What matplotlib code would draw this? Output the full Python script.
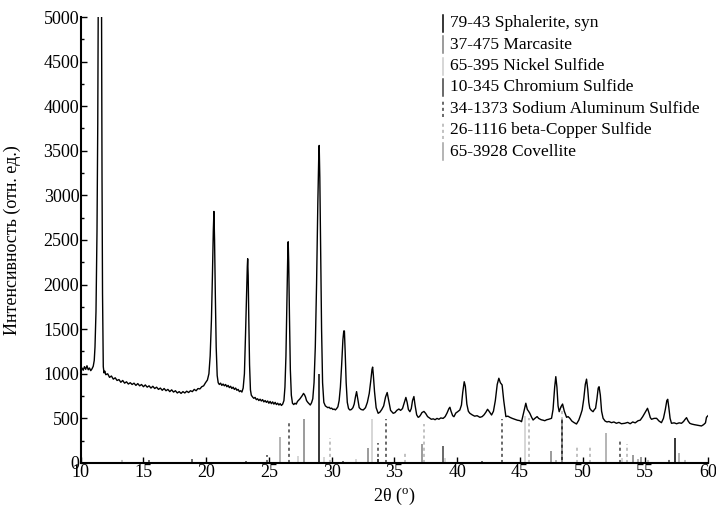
import matplotlib
matplotlib.use("Agg")
import matplotlib.pyplot as plt
from matplotlib.ticker import MultipleLocator

plt.rcParams['font.family'] = ['Liberation Serif', 'DejaVu Serif']
plt.rcParams['mathtext.fontset'] = 'custom'
plt.rcParams['mathtext.rm'] = 'Liberation Serif'

# measured XRD pattern (2theta, intensity)
tth = [10.0, 10.1, 10.2, 10.3, 10.4, 10.5, 10.6, 10.7, 10.8, 10.9, 11.0, 11.08, 11.14, 11.22, 11.3, 11.36,
       11.4, 11.46, 11.52, 11.6, 11.66, 11.7, 11.74, 11.8, 11.86, 11.92,
       12.0, 12.15, 12.3, 12.45, 12.6, 12.75, 12.9, 13.05, 13.2, 13.35, 13.5, 13.65, 13.8, 13.95,
       14.1, 14.25, 14.4, 14.55, 14.7, 14.85, 15.0, 15.15, 15.3, 15.45, 15.6, 15.75, 15.9, 16.05,
       16.2, 16.35, 16.5, 16.65, 16.8, 16.95, 17.1, 17.25, 17.4, 17.55, 17.7, 17.85, 18.0, 18.15,
       18.3, 18.45, 18.6, 18.75, 18.9, 19.05, 19.2, 19.35, 19.5, 19.65, 19.8, 19.95, 20.1, 20.22,
       20.32, 20.42, 20.5, 20.57, 20.62, 20.67, 20.73, 20.8, 20.88, 20.96, 21.05, 21.15, 21.25,
       21.35, 21.45, 21.55, 21.65, 21.75, 21.85, 21.95, 22.05, 22.15, 22.25, 22.35, 22.45, 22.55,
       22.65, 22.75, 22.85, 22.95, 23.05, 23.14, 23.22, 23.28, 23.31, 23.35, 23.4, 23.46, 23.53,
       23.6, 23.7, 23.8, 23.9, 24.0, 24.1, 24.2, 24.3, 24.4, 24.5, 24.6, 24.7, 24.8, 24.9, 25.0,
       25.1, 25.2, 25.3, 25.4, 25.5, 25.6, 25.7, 25.8, 25.9, 26.0, 26.1, 26.2, 26.28, 26.36, 26.43,
       26.5, 26.54, 26.58, 26.64, 26.71, 26.79, 26.88, 26.98, 27.08, 27.18, 27.28, 27.38, 27.48,
       27.58, 27.68, 27.76, 27.84, 27.92, 28.0, 28.1, 28.2, 28.3, 28.4, 28.5, 28.6, 28.7, 28.8,
       28.9, 28.97, 29.01, 29.06, 29.12, 29.2, 29.28, 29.38, 29.5, 29.6, 29.7, 29.8, 29.9, 30.0,
       30.1, 30.2, 30.3, 30.4, 30.5, 30.6, 30.7, 30.8, 30.9, 30.97, 31.02, 31.08, 31.16, 31.25,
       31.35, 31.46, 31.58, 31.7, 31.8, 31.9, 31.99, 32.08, 32.2, 32.35, 32.52, 32.7, 32.85, 33.0,
       33.12, 33.22, 33.27, 33.33, 33.42, 33.55, 33.71, 33.85, 34.0, 34.15, 34.3, 34.43, 34.55,
       34.7, 34.91, 35.05, 35.2, 35.36, 35.5, 35.65, 35.8, 35.92, 36.02, 36.12, 36.24, 36.35,
       36.45, 36.56, 36.65, 36.78, 36.9, 37.0, 37.1, 37.2, 37.36, 37.5, 37.65, 37.8, 37.95, 38.1,
       38.25, 38.4, 38.55, 38.7, 38.89, 39.05, 39.2, 39.35, 39.43, 39.52, 39.65, 39.75, 39.9,
       40.05, 40.22, 40.35, 40.45, 40.57, 40.66, 40.78, 40.9, 41.02, 41.2, 41.4, 41.6, 41.82, 42.0,
       42.15, 42.3, 42.43, 42.55, 42.75, 42.9, 43.05, 43.2, 43.33, 43.45, 43.59, 43.72, 43.89,
       44.05, 44.21, 44.4, 44.61, 44.8, 45.0, 45.14, 45.3, 45.48, 45.6, 45.7, 45.8, 45.95, 46.06,
       46.2, 46.38, 46.5, 46.7, 46.85, 46.99, 47.15, 47.3, 47.53, 47.65, 47.78, 47.87, 47.96,
       48.05, 48.14, 48.28, 48.41, 48.55, 48.73, 48.85, 48.99, 49.15, 49.3, 49.52, 49.7, 49.85,
       49.97, 50.1, 50.22, 50.32, 50.42, 50.5, 50.58, 50.7, 50.84, 50.95, 51.04, 51.15, 51.25,
       51.32, 51.42, 51.52, 51.64, 51.8, 51.95, 52.1, 52.31, 52.5, 52.7, 52.9, 53.1, 53.37, 53.6,
       53.8, 54.0, 54.2, 54.43, 54.6, 54.8, 55.0, 55.18, 55.3, 55.4, 55.5, 55.7, 55.9, 56.1,
       56.29, 56.45, 56.6, 56.72, 56.79, 56.88, 56.98, 57.09, 57.3, 57.5, 57.7, 57.89, 58.05,
       58.18, 58.29, 58.42, 58.55, 58.69, 58.9, 59.1, 59.3, 59.48, 59.65, 59.8, 59.88, 60.0]
intensity = [1030, 1065, 1040, 1080, 1050, 1090, 1045, 1065, 1035, 1055, 1085, 1150, 1300, 1700, 2600, 3800,
             5200, 7200, 7400, 6800, 5200, 3200, 1900, 1080, 1010, 1030,
             990, 1000, 960, 975, 940, 955, 925, 935, 905, 925, 895, 910, 885, 900,
             880, 895, 870, 890, 865, 880, 855, 875, 850, 865, 840, 860, 835, 850,
             825, 840, 815, 835, 810, 825, 800, 820, 795, 810, 785, 800, 780, 800,
             785, 805, 790, 810, 800, 825, 810, 835, 830, 855, 865, 900, 930, 1000,
             1200, 1600, 2100, 2600, 2820, 2500, 1900, 1300, 980, 900, 880, 895, 870,
             885, 865, 880, 855, 870, 845, 860, 835, 850, 825, 840, 815, 825,
             800, 810, 795, 840, 1000, 1450, 1900, 2200, 2290, 2100, 1600, 1100, 820,
             760, 740, 725, 735, 710, 720, 700, 715, 695, 710, 685, 700, 680, 695, 670,
             690, 665, 685, 660, 680, 655, 670, 650, 665, 645, 660, 700, 850, 1200, 1750,
             2300, 2480, 2250, 1650, 1050, 760, 670, 655, 670, 660, 690, 705, 720,
             740, 760, 780, 765, 740, 700, 680, 665, 650, 675, 720, 900, 1300, 2000,
             2900, 3400, 3560, 3200, 2500, 1500, 900, 680, 640, 630, 620, 625, 610, 615,
             600, 605, 595, 610, 630, 700, 850, 1100, 1380, 1480, 1480, 1250, 900, 680,
             610, 594, 600, 620, 660, 740, 800, 720, 620, 600, 594, 620, 680, 780,
             920, 1050, 1075, 980, 800, 620, 557, 570, 600, 640, 740, 790, 700,
             590, 557, 565, 590, 605, 590, 610, 680, 735, 680, 600, 575, 610,
             700, 745, 650, 540, 512, 520, 540, 565, 578, 555, 520, 505, 490, 495,
             485, 500, 490, 505, 500, 520, 560, 610, 625, 580, 530, 519, 560,
             575, 594, 650, 790, 911, 860, 660, 580, 557, 540, 525, 530, 512, 520,
             540, 570, 602, 580, 538, 580, 700, 880, 950, 900, 875, 700, 520,
             525, 512, 500, 490, 480, 475, 463, 560, 670, 600, 580, 557, 510, 482,
             500, 520, 500, 485, 480, 474, 485, 490, 501, 600, 850, 968, 850,
             640, 575, 630, 661, 580, 512, 520, 501, 470, 455, 437, 480, 540,
             594, 720, 880, 940, 820, 680, 613, 590, 575, 600, 613, 720, 840,
             855, 760, 580, 501, 470, 460, 465, 452, 460, 445, 455, 440, 445, 455,
             440, 460, 450, 474, 480, 520, 570, 613, 560, 510, 490, 500, 501, 470,
             452, 500, 600, 700, 714, 620, 500, 445, 450, 440, 450, 445, 465,
             490, 508, 470, 445, 437, 430, 425, 420, 415, 430, 450, 512, 530]

# reference card lines
sphal_x = [29.01, 33.66, 48.33, 57.36]
sphal_h = [994, 50, 490, 277]
marc_x = [27.82, 32.92, 37.17, 47.45, 54.03, 54.7]
marc_h = [490, 164, 213, 138, 90, 71]
nis_x = [27.29, 29.41, 31.94, 33.19, 39.05, 45.40, 53.14]
nis_h = [78, 70, 50, 490, 52, 530, 52]
crs_x = [15.47, 18.84, 23.17, 30.93, 38.84, 41.95]
crs_h = [30, 40, 25, 25, 191, 20]
nas_x = [24.82, 26.62, 33.66, 34.30, 43.55, 52.97, 56.9]
nas_h = [95, 474, 220, 497, 490, 243, 64]
cu2s_x = [13.27, 29.86, 35.84, 37.35, 45.72, 48.36, 49.52, 50.58, 53.58, 55.18, 58.15]
cu2s_h = [68, 277, 120, 440, 500, 660, 191, 191, 211, 41, 68]
cov_x = [25.86, 47.9, 51.91, 54.4, 57.67]
cov_h = [295, 30, 340, 41, 116]

labels = ['79-43 Sphalerite, syn', '37-475 Marcasite', '65-395 Nickel Sulfide',
          '10-345 Chromium Sulfide', '34-1373 Sodium Aluminum Sulfide',
          '26-1116 beta-Copper Sulfide', '65-3928 Covellite']

fig = plt.figure(figsize=(7.16, 5.09), dpi=100)
ax = fig.add_axes([0.1127, 0.0904, 0.8761, 0.8762])

sticks = [(sphal_x, sphal_h, '#000000', '-'),
          (marc_x, marc_h, '#808080', '-'),
          (nis_x, nis_h, '#cccccc', '-'),
          (crs_x, crs_h, '#404040', '-'),
          (nas_x, nas_h, '#404040', (0, (2, 2))),
          (cu2s_x, cu2s_h, '#b0b0b0', (0, (2, 2))),
          (cov_x, cov_h, '#a0a0a0', '-')]
for xs, hs, c, ls in sticks:
    ax.vlines(xs, 0, hs, colors=c, linestyles=ls, linewidth=1.1)

ax.plot(tth, intensity, color='black', linewidth=1.0)

# legend drawn by hand
for i, ((xs, hs, c, ls), lab) in enumerate(zip(sticks, labels)):
    yc = 0.986 - i * 0.048
    ax.plot([0.5776, 0.5776], [yc - 0.019, yc + 0.019], transform=ax.transAxes,
            color=c, linestyle=ls, linewidth=1.1, clip_on=False)
    ax.text(0.5887, yc, lab, transform=ax.transAxes, fontsize=12.5, va='center', ha='left')

ax.set_xlim(10, 60)
ax.set_ylim(0, 5000)
ax.xaxis.set_major_locator(MultipleLocator(5))
ax.yaxis.set_major_locator(MultipleLocator(500))
ax.yaxis.set_minor_locator(MultipleLocator(250))
ax.tick_params(axis='both', which='major', direction='in', length=4, width=1, labelsize=13, pad=1)
ax.tick_params(axis='y', which='minor', direction='in', length=2, width=1)
for s in ['top', 'right']:
    ax.spines[s].set_visible(False)
for s in ['left', 'bottom']:
    ax.spines[s].set_linewidth(1.5)

ax.set_xlabel(r'2θ ($^{\mathrm{o}}$)', fontsize=13, va='center')
ax.set_ylabel('Интенсивность (отн. ед.)', fontsize=13, va='center')
ax.xaxis.set_label_coords(0.5, -0.076)
ax.yaxis.set_label_coords(-0.1095, 0.5)

fig.savefig('out.png', dpi=100)
